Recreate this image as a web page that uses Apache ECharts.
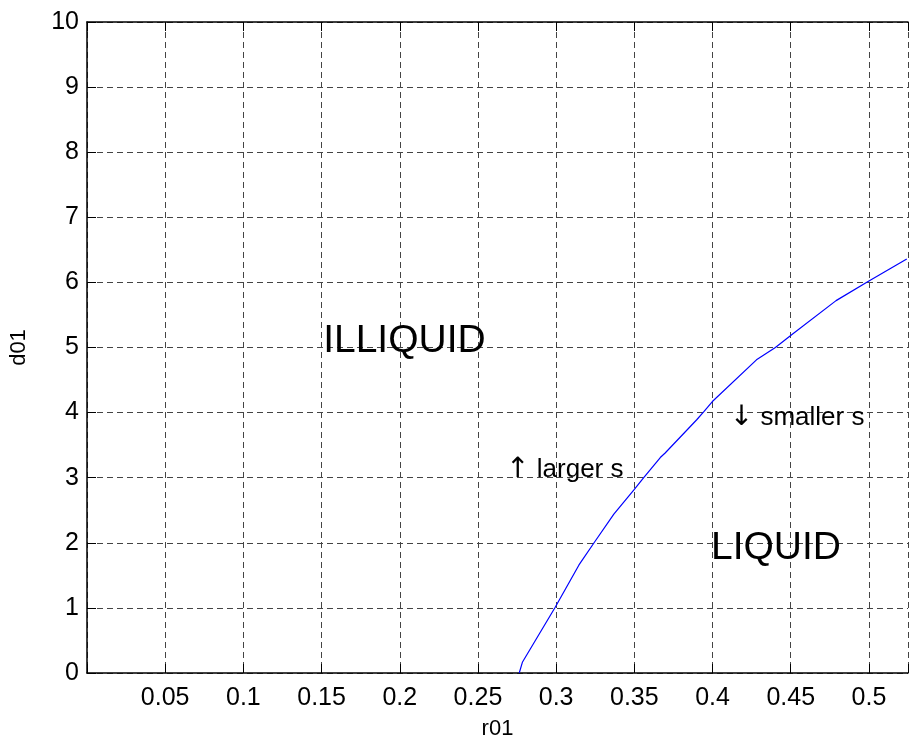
<!DOCTYPE html>
<html>
<head>
<meta charset="utf-8">
<script src="https://cdn.jsdelivr.net/npm/echarts@6/dist/echarts.min.js"></script>
<style>html,body{margin:0;padding:0;background:#fff;}#c{width:911px;height:745px;}</style>
</head>
<body>
<div id="c"></div>
<script>
// Boundary curve (r01, d01)
var curveX = [0.2764, 0.2785, 0.2994, 0.3146, 0.3248, 0.3369, 0.3500, 0.3560, 0.3666, 0.3697, 0.3899, 0.3946, 0.3999, 0.4281, 0.4402, 0.4508, 0.4790, 0.4992, 0.5242];
var curveY = [0.00, 0.17, 1.01, 1.66, 2.02, 2.44, 2.82, 3.00, 3.31, 3.38, 3.89, 4.02, 4.17, 4.81, 5.00, 5.20, 5.72, 6.01, 6.36];
// Annotations
var annX = [0.151, 0.399, 0.268, 0.411];
var annY = [5.10, 1.92, 3.12, 3.92];
var annArrow = ['', '', '\u2191', '\u2193'];
var annText = ['ILLIQUID', 'LIQUID', 'larger s', 'smaller s'];
var annSize = [39, 39, 26, 26];

var FONT = '"Liberation Sans", Arial, sans-serif';
var lineData = curveX.map(function (x, i) { return [x, curveY[i]]; });
var annData = annX.map(function (x, i) {
  var fmt = annArrow[i] ? '{a|' + annArrow[i] + '} ' + annText[i] : annText[i];
  return {
    value: [x, annY[i]],
    label: {
      formatter: fmt, fontSize: annSize[i], color: '#000',
      rich: { a: { fontFamily: '"DejaVu Sans", sans-serif', fontSize: 28, color: '#000' } }
    }
  };
});
var gridDash = { show: true, lineStyle: { color: '#444', type: [6, 4], width: 1 } };

var chart = echarts.init(document.getElementById('c'), null, { renderer: 'canvas' });
chart.setOption({
  animation: false,
  backgroundColor: '#fff',
  grid: { left: 87, top: 22, width: 825, height: 655, containLabel: false },
  xAxis: [{
    type: 'value', min: 0, max: 0.525, interval: 0.05, position: 'bottom',
    name: 'r01', nameLocation: 'middle', nameGap: 45,
    nameTextStyle: { fontFamily: FONT, fontSize: 22, color: '#000' },
    axisLine: { show: true, onZero: false, lineStyle: { color: '#000', width: 1.5 } },
    axisTick: { show: true, inside: true, length: 9, lineStyle: { color: '#000' } },
    axisLabel: {
      fontFamily: FONT, fontSize: 25, color: '#000', margin: 13,
      formatter: function (v) {
        var r = Math.round(v / 0.05);
        if (Math.abs(v - r * 0.05) > 1e-6 || r === 0) return '';
        return String(parseFloat(v.toFixed(2)));
      }
    },
    splitLine: gridDash
  }, {
    type: 'value', min: 0, max: 0.525, interval: 0.05, position: 'top',
    axisLine: { show: true, onZero: false, lineStyle: { color: '#000', width: 1.5 } },
    axisTick: { show: true, inside: true, length: 9, lineStyle: { color: '#000' } },
    axisLabel: { show: false }, splitLine: { show: false }
  }],
  yAxis: [{
    type: 'value', min: 0, max: 10, interval: 1, position: 'left',
    name: 'd01', nameLocation: 'middle', nameGap: 57, nameRotate: 90,
    nameTextStyle: { fontFamily: FONT, fontSize: 22, color: '#000' },
    axisLine: { show: true, onZero: false, lineStyle: { color: '#000', width: 1.5 } },
    axisTick: { show: true, inside: true, length: 9, lineStyle: { color: '#000' } },
    axisLabel: { fontFamily: FONT, fontSize: 25, color: '#000', margin: 8 },
    splitLine: gridDash
  }],
  series: [{
    type: 'line', data: lineData, showSymbol: false, symbol: 'none',
    smooth: false,
    lineStyle: { color: '#0000ff', width: 1.2 }, silent: true, z: 3
  }, {
    type: 'scatter', data: annData, symbolSize: 0, silent: true, z: 4,
    itemStyle: { opacity: 1 },
    label: {
      show: true, position: 'right', distance: 0, color: '#000', opacity: 1,
      fontFamily: FONT, align: 'left', verticalAlign: 'middle'
    }
  }]
});
</script>
</body>
</html>
